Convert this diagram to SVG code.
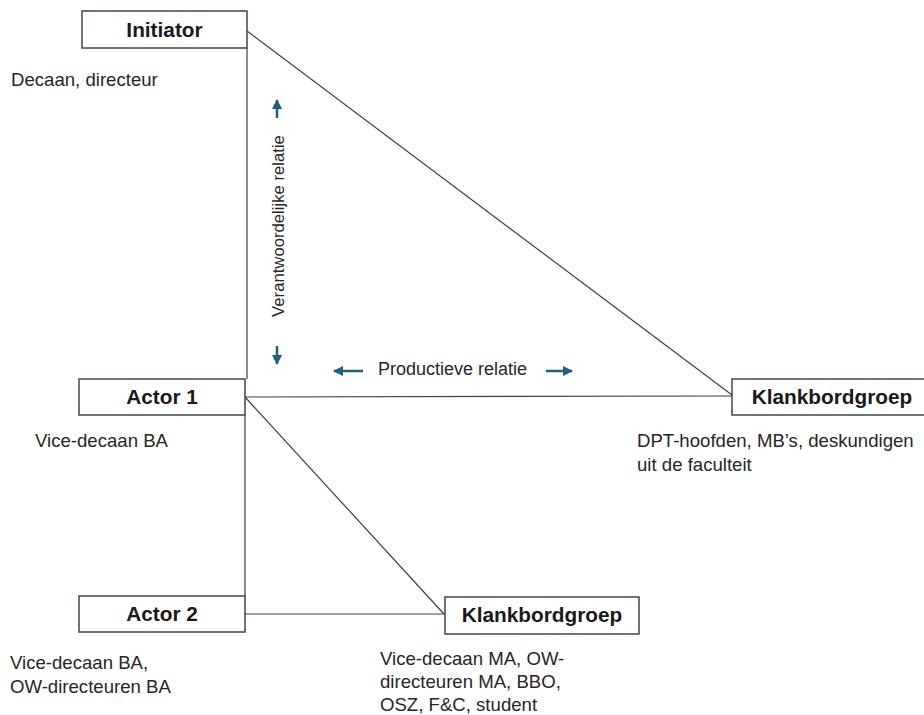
<svg xmlns="http://www.w3.org/2000/svg" width="924" height="715" viewBox="0 0 924 715">
<defs>
<marker id="ah" viewBox="0 0 10 10" refX="9" refY="5" markerWidth="4" markerHeight="4" orient="auto" markerUnits="strokeWidth">
<path d="M0,0 L10,5 L0,10 z" fill="#1f5f7f"/>
</marker>
<style>
.box{fill:#fff;stroke:#3b4654;stroke-width:1.5}
.title{font-family:"Liberation Sans",Arial,sans-serif;font-weight:bold;font-size:20.8px;fill:#1a1a1a;text-anchor:middle}
.lbl{font-family:"Liberation Sans",Arial,sans-serif;font-size:18.6px;fill:#262626}
.rel{font-family:"Liberation Sans",Arial,sans-serif;fill:#262626}
.con{stroke:#404040;stroke-width:1.2;fill:none}
.arr{stroke:#1f5f7f;stroke-width:2.5;fill:none}
</style>
</defs>
<rect width="924" height="715" fill="#fff"/>
<g id="connectors">
<line class="con" x1="247" y1="48" x2="247" y2="379"/>
<line class="con" x1="245" y1="415" x2="245" y2="596"/>
<line class="con" x1="247" y1="31" x2="732" y2="395"/>
<line class="con" x1="245" y1="397" x2="732" y2="396"/>
<line class="con" x1="245" y1="397" x2="444" y2="614"/>
<line class="con" x1="245" y1="614" x2="444" y2="614"/>
</g>
<g id="arrows">
<line class="arr" x1="277" y1="118" x2="277" y2="100" marker-end="url(#ah)"/>
<line class="arr" x1="277" y1="346" x2="277" y2="364" marker-end="url(#ah)"/>
<line class="arr" x1="363" y1="371" x2="334" y2="371" marker-end="url(#ah)"/>
<line class="arr" x1="546" y1="371" x2="572" y2="371" marker-end="url(#ah)"/>
<text class="rel" font-size="16.7" transform="translate(284,226) rotate(-90)" text-anchor="middle">Verantwoordelijke relatie</text>
<text class="rel" font-size="18" x="378" y="375">Productieve relatie</text>
</g>
<g id="initiator">
<rect class="box" x="82" y="11" width="165" height="37"/>
<text class="title" x="164.5" y="37">Initiator</text>
<text class="lbl" x="11" y="86">Decaan, directeur</text>
</g>
<g id="actor1">
<rect class="box" x="79" y="379" width="166" height="36"/>
<text class="title" x="162" y="404">Actor 1</text>
<text class="lbl" x="35" y="447">Vice-decaan BA</text>
</g>
<g id="actor2">
<rect class="box" x="79" y="596" width="166" height="36"/>
<text class="title" x="162" y="621">Actor 2</text>
<text class="lbl" x="10" y="669">Vice-decaan BA,</text>
<text class="lbl" x="10" y="693">OW-directeuren BA</text>
</g>
<g id="klankbord1">
<rect class="box" x="732" y="379" width="195" height="36"/>
<text class="title" x="832" y="404">Klankbordgroep</text>
<text class="lbl" x="637" y="447">DPT-hoofden, MB’s, deskundigen</text>
<text class="lbl" x="637" y="471">uit de faculteit</text>
</g>
<g id="klankbord2">
<rect class="box" x="445" y="597" width="194" height="37"/>
<text class="title" x="542" y="622">Klankbordgroep</text>
<text class="lbl" x="380" y="665">Vice-decaan MA, OW-</text>
<text class="lbl" x="380" y="688">directeuren MA, BBO,</text>
<text class="lbl" x="380" y="711">OSZ, F&amp;C, student</text>
</g>
</svg>
